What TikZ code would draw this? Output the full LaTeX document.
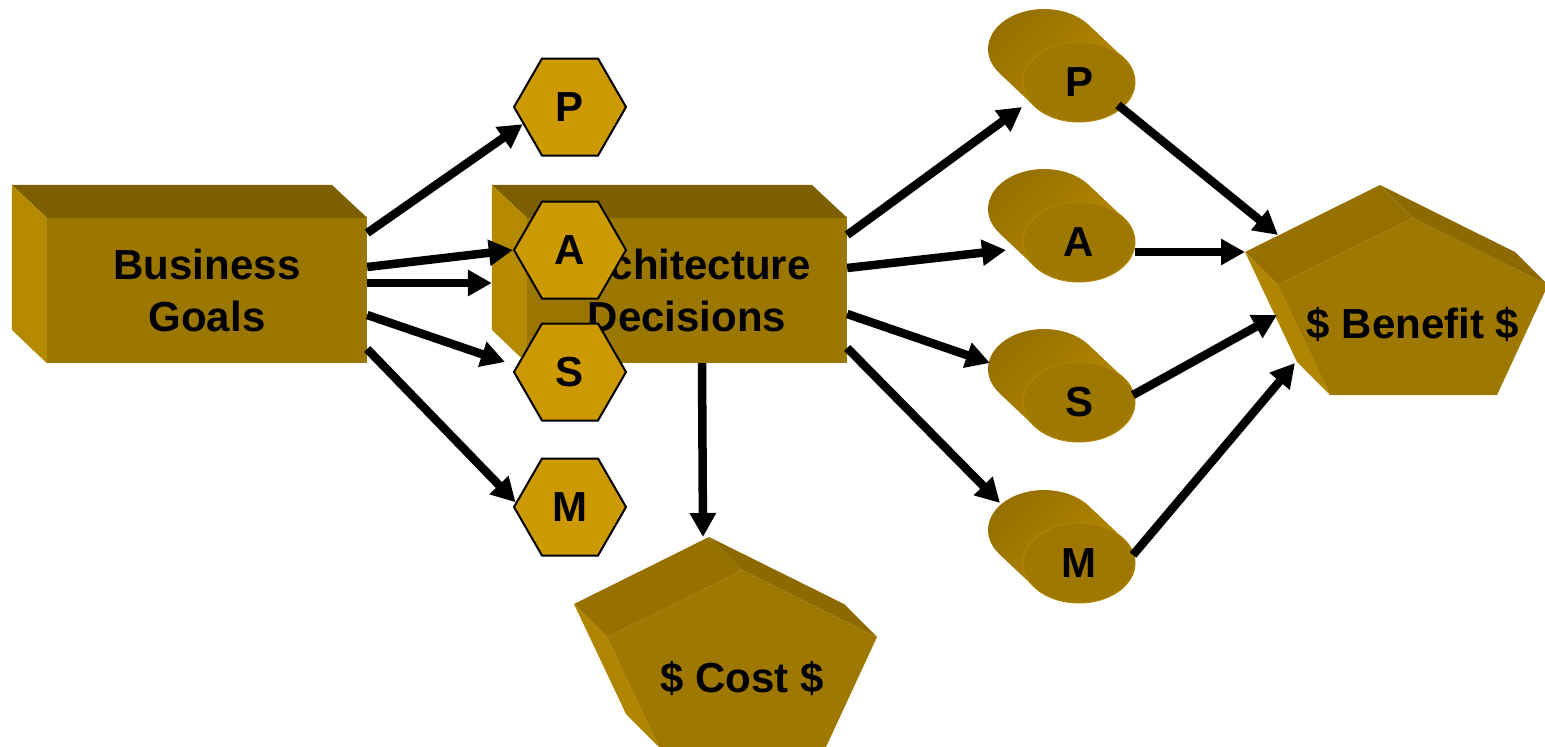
\documentclass[tikz,border=0pt]{standalone}
\usepackage{fontspec}
\setmainfont{Liberation Sans}
\usetikzlibrary{arrows.meta,shapes.geometric,calc}
\definecolor{boxfront}{RGB}{155,119,0}
\definecolor{boxtop}{RGB}{125,94,0}
\definecolor{boxside}{RGB}{182,138,0}
\definecolor{hexfill}{RGB}{204,153,0}
\definecolor{cylfront}{RGB}{158,120,0}
\definecolor{cylrim}{RGB}{176,134,0}
\definecolor{cyllight}{RGB}{186,142,0}
\definecolor{cyldark}{RGB}{112,82,0}
\definecolor{cylmid}{RGB}{150,112,0}
\definecolor{pentfront}{RGB}{158,120,0}
\definecolor{penttl}{RGB}{150,113,0}
\definecolor{penttr}{RGB}{141,106,0}
\definecolor{pentside}{RGB}{176,133,0}
\begin{document}
\begin{tikzpicture}[x=1pt,y=-1pt,
  lbl/.style={font=\fontsize{42}{52}\selectfont\bfseries},
  boxface/.style={rectangle, fill=boxfront, minimum width=320pt, minimum height=145pt, inner sep=0pt, align=center, lbl},
  hexnode/.style={regular polygon, regular polygon sides=6, minimum size=112pt, inner sep=0pt, fill=hexfill, draw=black, line width=2pt, lbl},
  cylnode/.style={ellipse, minimum width=112pt, minimum height=80pt, inner sep=0pt, fill=cylfront, draw=cylrim, line width=1pt, lbl},
  txt/.style={lbl, anchor=base, inner sep=0pt},
  arr/.style={line width=8.5pt, -{Triangle[length=24pt,width=25pt]}},
  cylbody/.pic={\shade[bottom color=cyllight, middle color=cyldark, top color=cylmid, shading angle=45]
     (9.66,-57.15) arc[start angle=-37.15, end angle=-217.15, x radius=56, y radius=40]
     -- (-44.66,24.15) arc[start angle=142.85, end angle=-37.15, x radius=56, y radius=40] -- cycle;},
  pent/.pic={
     \fill[penttl] (-168,34) -- (-33,-33) -- (0,0) -- (-135,67) -- cycle;
     \fill[penttr] (-33,-33) -- (102,34) -- (135,67) -- (0,0) -- cycle;
     \fill[pentside] (-168,34) -- (-135,67) -- (-83,177) -- (-116,144) -- cycle;
     \fill[pentfront] (0,0) -- (135,67) -- (84,177) -- (-83,177) -- (-135,67) -- cycle;}
]
\useasboundingbox (0,0) rectangle (1545,747);
% boxes
\node[boxface] (bg) at (207,290.5) {Business\\Goals};
\fill[boxtop] (bg.north west) -- ++(-35,-33) -- ++(320,0) -- (bg.north east) -- cycle;
\fill[boxside] (bg.north west) -- ++(-35,-33) -- ++(0,145) -- (bg.south west) -- cycle;
\node[boxface] (ad) at (687,290.5) {Architecture\\Decisions};
\fill[boxtop] (ad.north west) -- ++(-35,-33) -- ++(320,0) -- (ad.north east) -- cycle;
\fill[boxside] (ad.north west) -- ++(-35,-33) -- ++(0,145) -- (ad.south west) -- cycle;
% pentagons
\pic at (742,570) {pent};
\pic at (1413,218) {pent};
\node[txt] (cost) at (742,692) {\$ Cost \$};
\node[txt] (ben) at (1413,338) {\$ Benefit \$};
% cylinders
\pic at (1079,82) {cylbody};
\node[cylnode] (cp) at (1079,82) {P};
\pic at (1079,242) {cylbody};
\node[cylnode] (ca) at (1079,242) {A};
\pic at (1079,402) {cylbody};
\node[cylnode] (cs) at (1079,402) {S};
\pic at (1079,563) {cylbody};
\node[cylnode] (cm) at (1079,563) {M};
% hexagons
\node[hexnode] (hp) at (570,107) {P};
\node[hexnode] (ha) at (570,250) {A};
\node[hexnode] (hs) at (570,372) {S};
\node[hexnode] (hm) at (570,507) {M};
% arrows
\draw[arr] ([yshift=57.5pt]bg.east) -- (hp.200);
\draw[arr] ([yshift=23.5pt]bg.east) -- (ha.180);
\draw[arr] ([yshift=7.5pt]bg.east) -- ([xshift=-35pt,yshift=7.5pt]ad.west);
\draw[arr] ([yshift=-24.5pt]bg.east) -- ($(hs.center)+(-65,-10)$);
\draw[arr] ([yshift=-58.5pt]bg.east) -- (hm.175);
\draw[arr] ([yshift=55.5pt]ad.east) -- ($(cp)+(-57,25)$);
\draw[arr] ([yshift=22.5pt]ad.east) -- ($(ca)+(-73,8)$);
\draw[arr] ([yshift=-23.5pt]ad.east) -- ($(cs)+(-89,-39)$);
\draw[arr] ([yshift=-57.5pt]ad.east) -- ($(cm)+(-79,-60)$);
\draw[arr] ([xshift=15pt]ad.south) -- ($(cost.base)+(-39,-155)$);
\draw[arr] ($(cp)+(39,23)$) -- ($(ben.base)+(-135,-103)$);
\draw[arr] ($(ca)+(56,10)$) -- ($(ben.base)+(-168,-86)$);
\draw[arr] ($(cs)+(54,-7)$) -- ($(ben.base)+(-136,-23)$);
\draw[arr] ($(cm)+(54,-8)$) -- ($(ben.base)+(-118,25)$);
\end{tikzpicture}
\end{document}
